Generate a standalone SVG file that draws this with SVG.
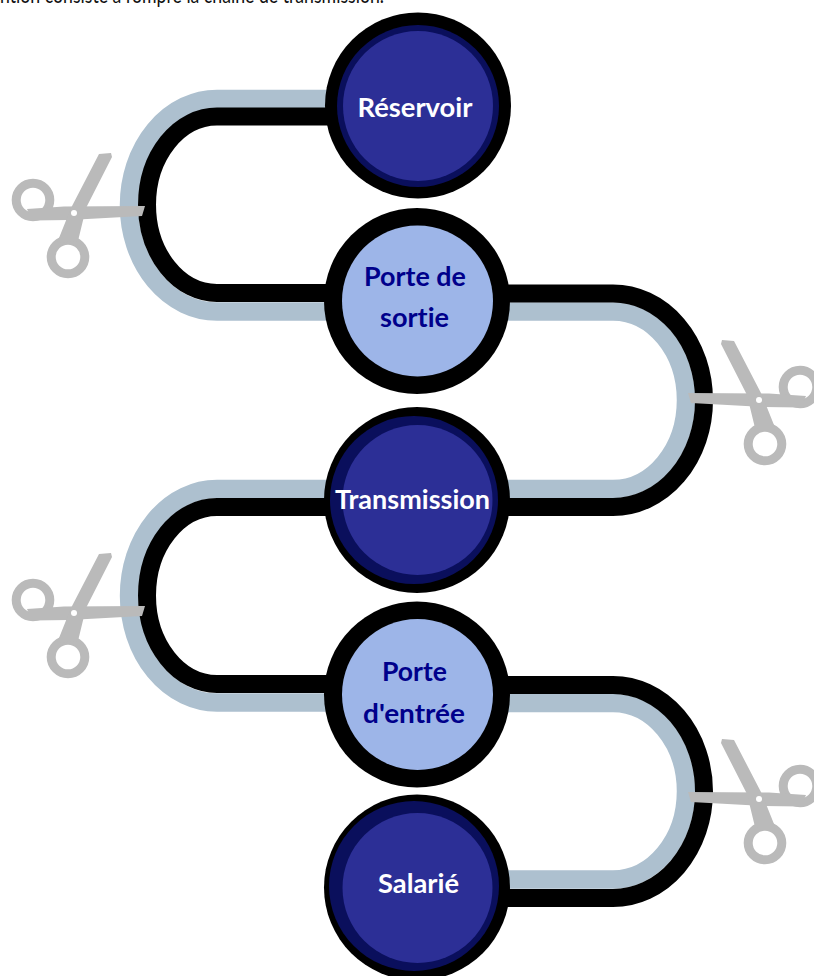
<svg xmlns="http://www.w3.org/2000/svg" width="814" height="976" viewBox="0 0 814 976">
<style>
.g{fill:none;stroke:#adc0cf;stroke-width:18.5}
.b{fill:none;stroke:#000;stroke-width:18}
.t{font-family:"Lato","Liberation Sans",sans-serif;font-weight:700;font-size:26.5px;text-anchor:middle;font-variant-ligatures:none}
.w{fill:#fff}
.n{fill:#00008b}
.ring{fill:#000}
.nv{fill:#0a0f5c}
.dk{fill:#2c2f96}
.lt{fill:#9db5e8}
.sc{fill:#bababa}
.rg{fill:none;stroke:#bababa;stroke-width:9}
</style>
<defs>
<g id="sc">
<circle class="rg" cx="-41" cy="-13" r="16.8"/>
<circle class="rg" cx="-6" cy="44" r="16.8"/>
<polygon class="sc" points="-47,-4 -10,-6.5 71,-7 68,3 -5,7 -42,7.5"/>
<polygon class="sc" points="25,-59 37,-60 38,-56 12,-5 4,28 -17,30 -3,-5"/>
<circle cx="0" cy="0" r="3" fill="#fff"/>
</g>
</defs>
<rect width="814" height="976" fill="#fff"/>
<text x="0" y="3" textLength="384" lengthAdjust="spacingAndGlyphs" font-family="Lato, 'Liberation Sans', sans-serif" font-size="23" fill="#111" style="font-variant-ligatures:none">ntion consiste à rompre la chaîne de transmission.</text>
<g id="connectors">
<path class="g" d="M335,99 H217 A88 106.25 0 0 0 217,311.5 H335"/>
<path class="b" d="M335,116.5 H217 A70 88.25 0 0 0 217,293 H335"/>
<path class="g" d="M500,311.5 H613 A73 88.75 0 0 1 613,489 H500"/>
<path class="b" d="M500,293.5 H613 A91 106.75 0 0 1 613,507 H500"/>
<path class="g" d="M335,489 H217 A88 106.75 0 0 0 217,702.5 H335"/>
<path class="b" d="M335,507 H217 A70 88.5 0 0 0 217,684 H335"/>
<path class="g" d="M500,703 H613 A73 88.25 0 0 1 613,879.5 H500"/>
<path class="b" d="M500,685 H613 A91 106.5 0 0 1 613,898 H500"/>
</g>
<g id="scissors-1"><use href="#sc" transform="translate(74,213)"/></g>
<g id="scissors-2"><use href="#sc" transform="translate(759,400) scale(-1,1)"/></g>
<g id="scissors-3"><use href="#sc" transform="translate(74,613)"/></g>
<g id="scissors-4"><use href="#sc" transform="translate(759,799) scale(-1,1)"/></g>
<g id="node-reservoir">
<circle class="ring" cx="418" cy="105.5" r="93"/>
<circle class="nv" cx="418" cy="106" r="81"/>
<circle class="dk" cx="418" cy="106" r="75"/>
<text class="t w" x="415" y="117" textLength="115" lengthAdjust="spacingAndGlyphs">Réservoir</text>
</g>
<g id="node-porte-sortie">
<circle class="ring" cx="417" cy="301" r="93"/>
<circle class="lt" cx="417.5" cy="301" r="75.5"/>
<text class="t n" x="415" y="286" textLength="102" lengthAdjust="spacingAndGlyphs">Porte de</text>
<text class="t n" x="414.5" y="327" textLength="69" lengthAdjust="spacingAndGlyphs">sortie</text>
</g>
<g id="node-transmission">
<circle class="ring" cx="417" cy="500" r="93"/>
<circle class="nv" cx="414" cy="500" r="84"/>
<circle class="dk" cx="417.5" cy="500" r="75"/>
<text class="t w" x="412.5" y="509" textLength="155" lengthAdjust="spacingAndGlyphs">Transmission</text>
</g>
<g id="node-porte-entree">
<circle class="ring" cx="417" cy="694.5" r="93"/>
<circle class="lt" cx="417.5" cy="694.5" r="75.5"/>
<text class="t n" x="414.5" y="681" textLength="65" lengthAdjust="spacingAndGlyphs">Porte</text>
<text class="t n" x="414" y="723" textLength="102" lengthAdjust="spacingAndGlyphs">d'entrée</text>
</g>
<g id="node-salarie">
<circle class="ring" cx="417" cy="887.5" r="93"/>
<circle class="nv" cx="414" cy="886" r="85"/>
<circle class="dk" cx="417.5" cy="888" r="75"/>
<text class="t w" x="418.5" y="893" textLength="81" lengthAdjust="spacingAndGlyphs">Salarié</text>
</g>
</svg>
